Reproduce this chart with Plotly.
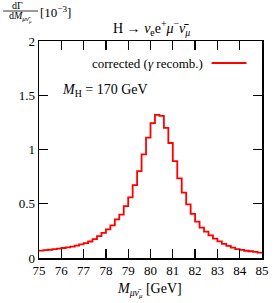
import plotly.graph_objects as go

# ---- data ----
bin_start = 75.0
bin_width = 0.2
values = [0.068, 0.072, 0.076, 0.081, 0.086, 0.092, 0.098, 0.105, 0.114, 0.125,
          0.137, 0.152, 0.174, 0.201, 0.231, 0.264, 0.301, 0.356, 0.399, 0.479,
          0.559, 0.672, 0.800, 0.955, 1.110, 1.244, 1.320, 1.310, 1.200, 1.060,
          0.892, 0.733, 0.602, 0.495, 0.406, 0.335, 0.280, 0.243, 0.209, 0.178,
          0.154, 0.130, 0.111, 0.095, 0.082, 0.074, 0.067, 0.062, 0.056, 0.050]
x_ticks = [75, 76, 77, 78, 79, 80, 81, 82, 83, 84, 85]
y_ticks = [0, 0.5, 1, 1.5, 2]
y_tick_labels = ["0", "0.5", "1", "1.5", "2"]
series_name = "corrected (<i>γ</i> recomb.)"

edges = [round(bin_start + i * bin_width, 6) for i in range(len(values) + 1)]
ys = values + [values[-1]]

W, H = 278, 303
L, R, T, B = 39, 9, 41, 45
pw, ph = W - L - R, H - T - B

def px(x):
    return (x - L) / pw

def py(y):
    return (H - B - y) / ph

FONT = "Liberation Serif"

fig = go.Figure()
fig.add_trace(go.Scatter(x=edges, y=ys, mode="lines", line_shape="hv",
                         line=dict(color="#ff0000", width=1.8),
                         showlegend=False, name="corrected", hoverinfo="skip"))

axis_common = dict(showline=True, linecolor="black", linewidth=1.5, mirror="ticks",
                   ticks="inside", ticklen=9, tickwidth=1.3, tickcolor="black",
                   showgrid=False, zeroline=False,
                   tickfont=dict(family=FONT, size=13, color="black"))
fig.update_xaxes(range=[75, 85], tickvals=x_ticks, ticktext=[str(v) for v in x_ticks], **axis_common)
fig.update_yaxes(range=[0, 2], tickvals=y_ticks, ticktext=y_tick_labels, **axis_common)

ann = []
# title
ann.append(dict(x=px(155), y=py(28), xref="paper", yref="paper", showarrow=False,
                text="H → <i>ν</i><sub>e</sub>e<sup>+</sup><i>μ</i><sup>−</sup><i>ν̄</i><sub><i>μ</i></sub>",
                font=dict(family=FONT, size=14, color="black"), xanchor="center", yanchor="middle"))
# y label fraction
ann.append(dict(x=px(17), y=py(5), xref="paper", yref="paper", showarrow=False,
                text="dΓ", font=dict(family=FONT, size=10, color="black"),
                xanchor="center", yanchor="middle"))
ann.append(dict(x=px(20), y=py(17), xref="paper", yref="paper", showarrow=False,
                text="d<i>M</i><sub><i>μν̄</i><sub><i>μ</i></sub></sub>",
                font=dict(family=FONT, size=10, color="black"),
                xanchor="center", yanchor="middle"))
ann.append(dict(x=px(38), y=py(12), xref="paper", yref="paper", showarrow=False,
                text="[10<sup>−3</sup>]", font=dict(family=FONT, size=13, color="black"),
                xanchor="left", yanchor="middle"))
# legend text
ann.append(dict(x=px(210), y=py(63), xref="paper", yref="paper", showarrow=False,
                text=series_name, font=dict(family=FONT, size=13, color="black"),
                xanchor="right", yanchor="middle"))
# M_H
ann.append(dict(x=px(61), y=py(90), xref="paper", yref="paper", showarrow=False,
                text="<i>M</i><sub>H</sub> = 170 GeV", font=dict(family=FONT, size=14, color="black"),
                xanchor="left", yanchor="middle"))
# x axis title
ann.append(dict(x=px(153), y=py(290), xref="paper", yref="paper", showarrow=False,
                text="<i>M</i><sub><i>μν̄</i><sub><i>μ</i></sub></sub> [GeV]",
                font=dict(family=FONT, size=14, color="black"),
                xanchor="center", yanchor="middle"))

shapes = [
    dict(type="line", xref="paper", yref="paper", x0=px(2), x1=px(38), y0=py(11), y1=py(11),
         line=dict(color="black", width=0.8)),
    dict(type="line", xref="paper", yref="paper", x0=px(217), x1=px(253), y0=py(63), y1=py(63),
         line=dict(color="#ff0000", width=1.8)),
]

fig.update_layout(width=W, height=H, margin=dict(l=L, r=R, t=T, b=B, pad=0),
                  paper_bgcolor="white", plot_bgcolor="white",
                  annotations=ann, shapes=shapes, hovermode=False,
                  font=dict(family=FONT, color="black"))

fig.write_html("out.html", config={"displayModeBar": False, "staticPlot": True},
               post_script="document.body.style.margin='0';document.body.style.overflow='hidden';")
